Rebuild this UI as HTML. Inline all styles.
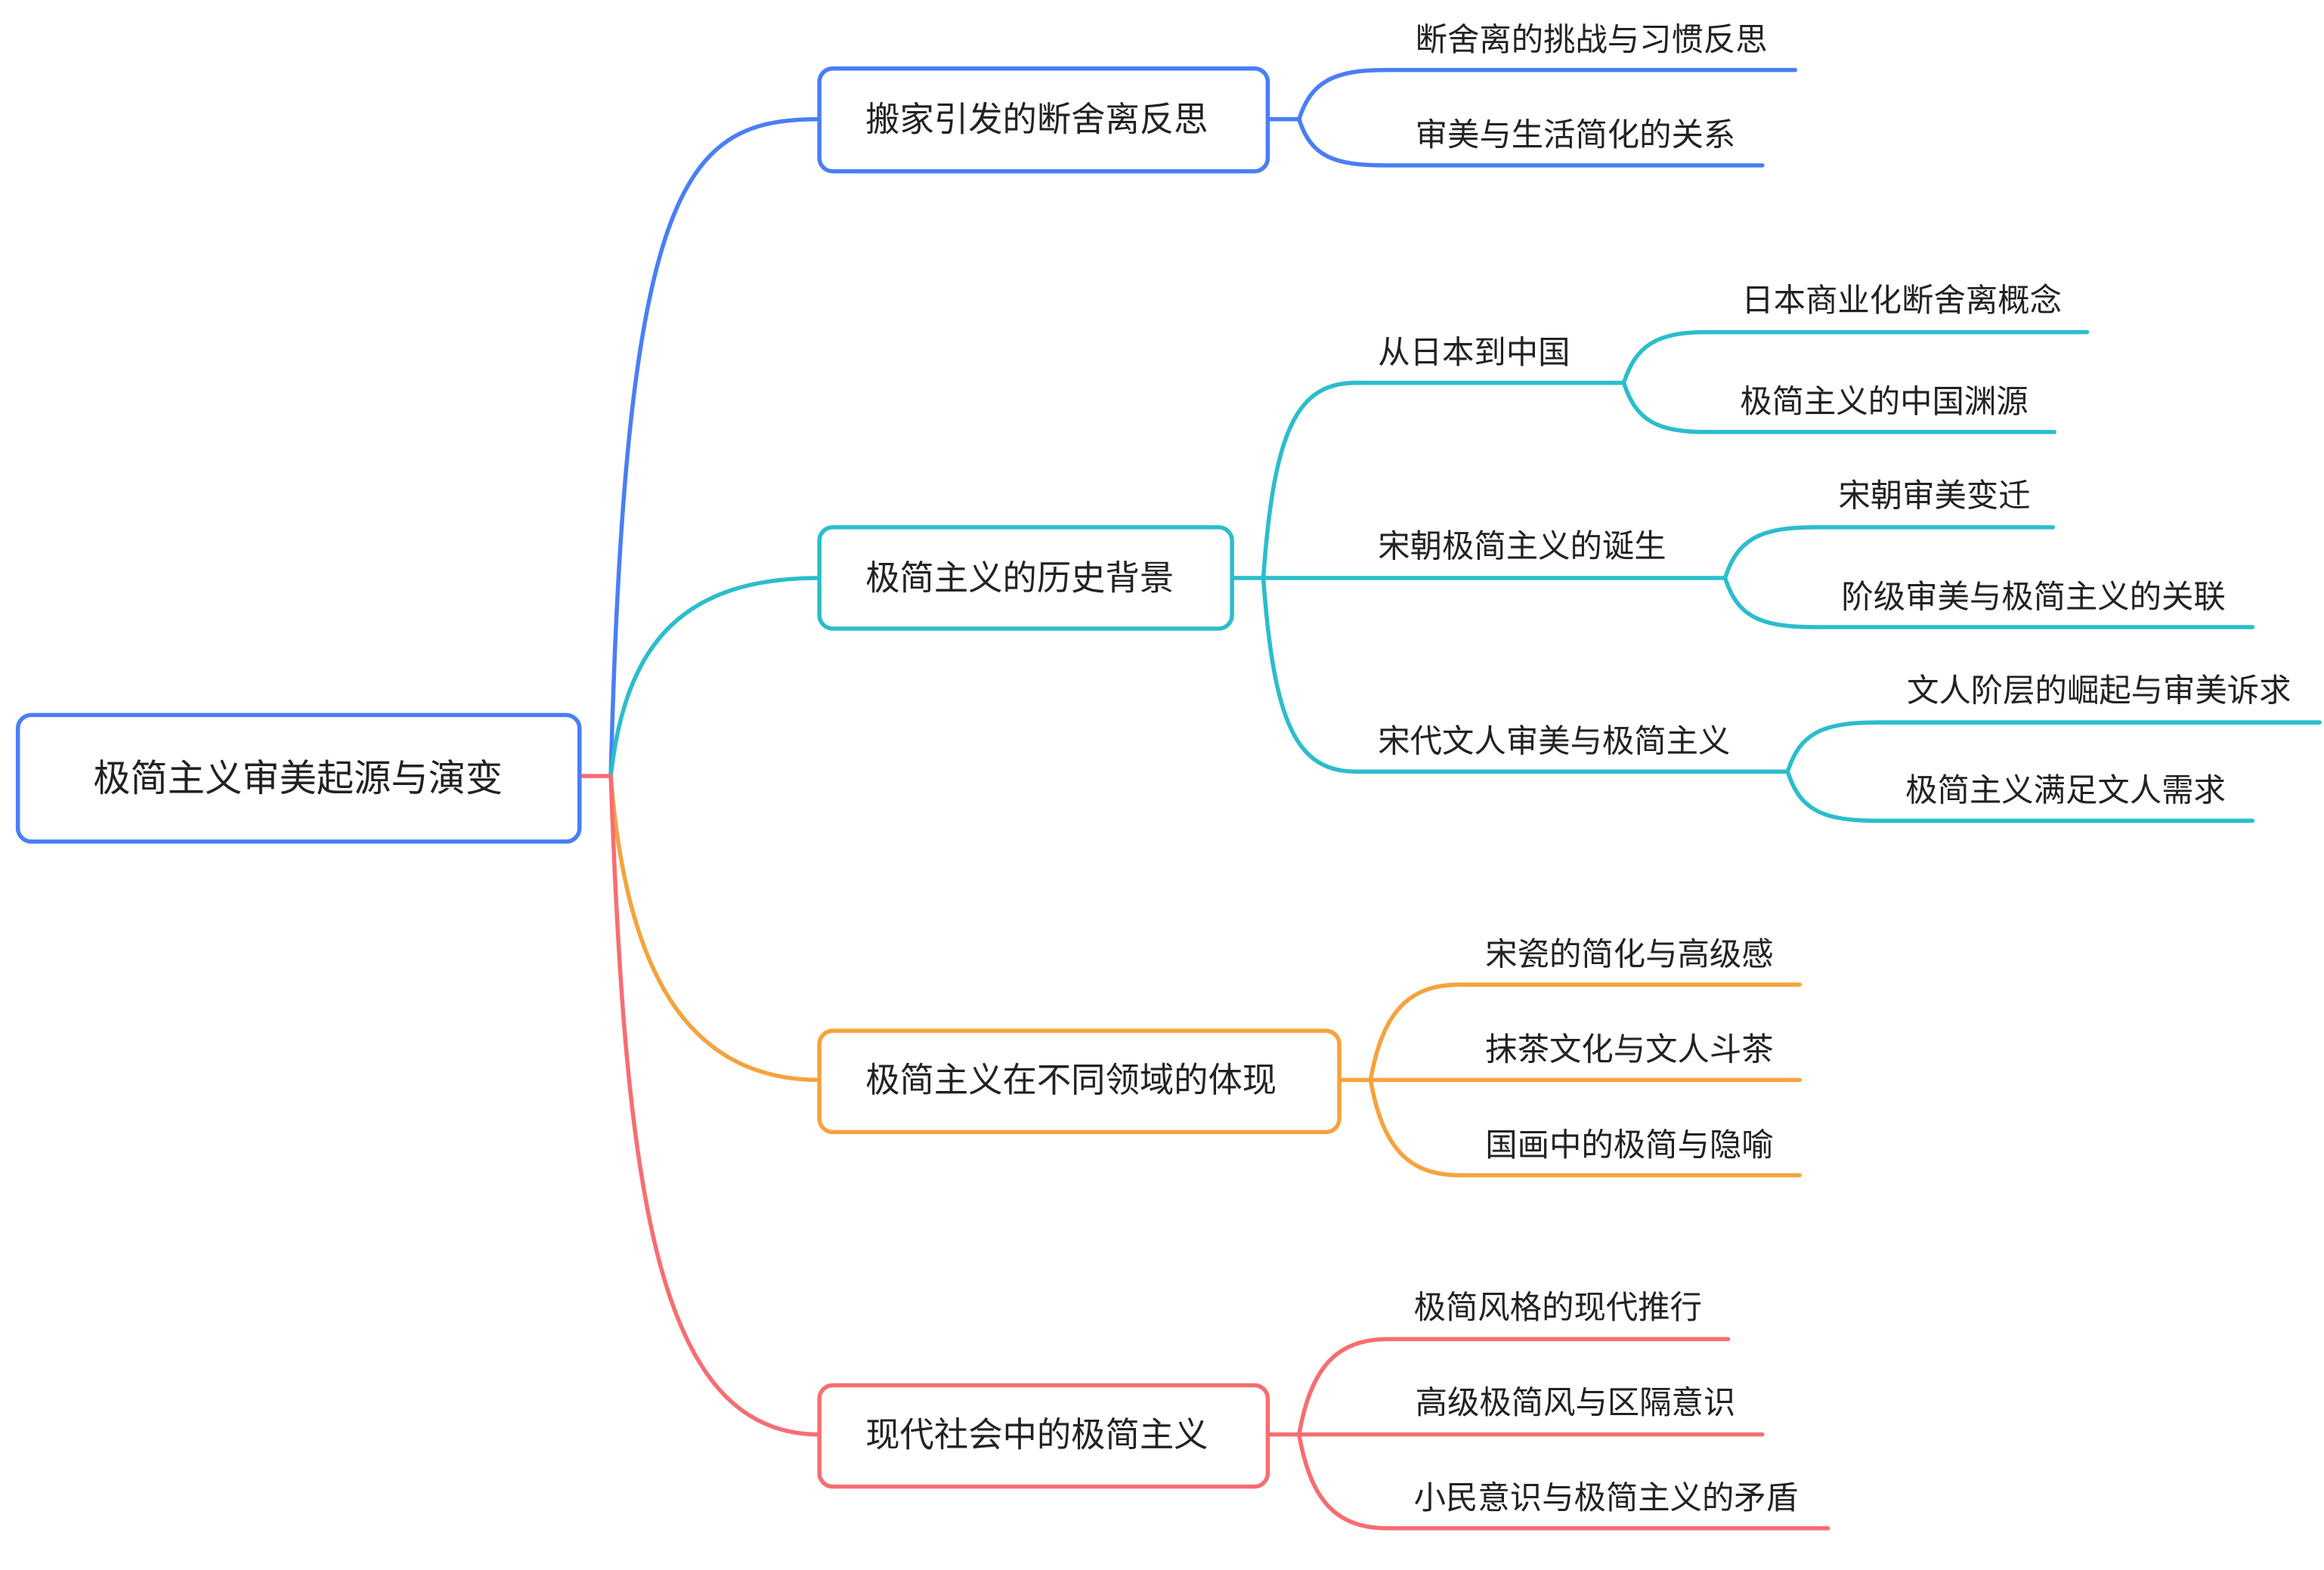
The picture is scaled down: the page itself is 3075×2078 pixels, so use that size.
<!DOCTYPE html>
<html><head><meta charset="utf-8"><style>
html,body{margin:0;padding:0;background:#fff;}
svg{display:block}
text{font-family:"Liberation Sans","Noto Sans CJK SC",sans-serif;fill:#222;}
</style></head><body>
<svg width="3075" height="2078" viewBox="0 0 1560 1054" preserveAspectRatio="none" xmlns="http://www.w3.org/2000/svg">
<g fill="none" stroke-width="2.8" stroke-linecap="round">
<!-- main branches -->
<path d="M410 521 C 420 120, 460 80, 550 80" stroke="#4a7ef5"/>
<path d="M410 521 C 420 430, 460 388, 550 388" stroke="#2bbdcc"/>
<path d="M410 521 C 420 650, 460 725, 550 725" stroke="#f5a33c"/>
<path d="M410 521 C 420 800, 440 963, 550 963" stroke="#f76d72"/>
<path d="M389 521 H410" stroke="#f76d72"/>
<!-- box1 children -->
<g stroke="#4a7ef5">
<path d="M851 80 H872"/>
<path d="M872 80 C 880 55, 895 47, 930 47 H1205"/>
<path d="M872 80 C 880 105, 895 111, 930 111 H1183"/>
</g>
<!-- box2 children -->
<g stroke="#2bbdcc">
<path d="M827 388 H848"/>
<path d="M848 388 C 855 290, 870 257, 910 257 H1090"/>
<path d="M848 388 H1158"/>
<path d="M848 388 C 855 485, 870 518, 910 518 H1200"/>
<path d="M1090 257 C 1098 232, 1112 223, 1145 223 H1401"/>
<path d="M1090 257 C 1098 282, 1112 290, 1145 290 H1379"/>
<path d="M1158 388 C 1166 363, 1180 354, 1218 354 H1378"/>
<path d="M1158 388 C 1166 413, 1180 421, 1218 421 H1512"/>
<path d="M1200 518 C 1208 493, 1222 485, 1260 485 H1557"/>
<path d="M1200 518 C 1208 543, 1222 551, 1260 551 H1512"/>
</g>
<!-- box3 children -->
<g stroke="#f5a33c">
<path d="M899 725 H920"/>
<path d="M920 725 C 928 680, 945 661, 980 661 H1208"/>
<path d="M920 725 H1208"/>
<path d="M920 725 C 928 770, 945 789, 980 789 H1208"/>
</g>
<!-- box4 children -->
<g stroke="#f76d72">
<path d="M851 963 H872"/>
<path d="M872 963 C 880 918, 897 899, 932 899 H1160"/>
<path d="M872 963 H1183"/>
<path d="M872 963 C 880 1008, 897 1026, 932 1026 H1227"/>
</g>
<!-- boxes -->
<rect x="12" y="480" width="377" height="85" rx="9" fill="#fff" stroke="#4a7ef5"/>
<rect x="550" y="46" width="301" height="69" rx="9" fill="#fff" stroke="#4a7ef5"/>
<rect x="550" y="354" width="277" height="68" rx="9" fill="#fff" stroke="#2bbdcc"/>
<rect x="550" y="692" width="349" height="68" rx="9" fill="#fff" stroke="#f5a33c"/>
<rect x="550" y="930" width="301" height="68" rx="9" fill="#fff" stroke="#f76d72"/>
</g>
<text x="200" y="531" font-size="25" text-anchor="middle">极简主义审美起源与演变</text>
<g font-size="23">
<text x="581" y="88">搬家引发的断舍离反思</text>
<text x="581" y="396">极简主义的历史背景</text>
<text x="581" y="733">极简主义在不同领域的体现</text>
<text x="581" y="971">现代社会中的极简主义</text>
</g>
<g font-size="21.5">
<text x="950" y="34">断舍离的挑战与习惯反思</text>
<text x="950" y="98">审美与生活简化的关系</text>
<text x="925" y="244">从日本到中国</text>
<text x="925" y="374">宋朝极简主义的诞生</text>
<text x="925" y="505">宋代文人审美与极简主义</text>
<text x="1169" y="209">日本商业化断舍离概念</text>
<text x="1168" y="277">极简主义的中国渊源</text>
<text x="1234" y="340">宋朝审美变迁</text>
<text x="1236" y="408">阶级审美与极简主义的关联</text>
<text x="1280" y="471">文人阶层的崛起与审美诉求</text>
<text x="1279" y="538">极简主义满足文人需求</text>
<text x="997" y="648">宋瓷的简化与高级感</text>
<text x="997" y="712">抹茶文化与文人斗茶</text>
<text x="997" y="776">国画中的极简与隐喻</text>
<text x="949" y="885">极简风格的现代推行</text>
<text x="950" y="949">高级极简风与区隔意识</text>
<text x="949" y="1013">小民意识与极简主义的矛盾</text>
</g>
</svg>
</body></html>
